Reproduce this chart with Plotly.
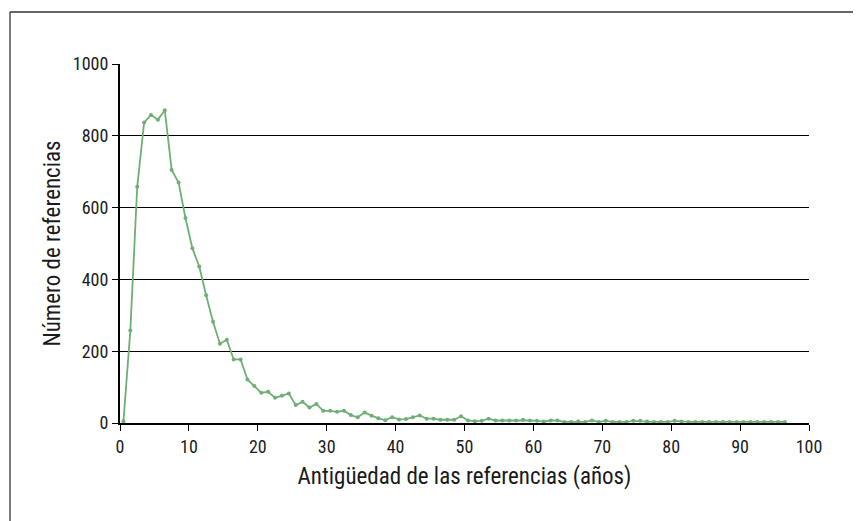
import plotly.graph_objects as go

# Data: number of references by age (years), points centred on each year bin
ages = [i + 0.5 for i in range(97)]
refs = [
    5, 258, 658, 837, 858, 845, 871, 705, 670, 571,
    487, 436, 356, 282, 221, 232, 177, 177, 121, 103,
    84, 87, 70, 76, 82, 50, 59, 43, 53, 34,
    34, 31, 34, 22, 16, 29, 20, 13, 8, 16,
    10, 11, 16, 21, 12, 12, 9, 9, 9, 19,
    7, 5, 6, 12, 7, 7, 7, 7, 9, 7,
    6, 4, 7, 7, 3, 3, 5, 3, 7, 3,
    6, 3, 3, 3, 6, 6, 4, 3, 3, 3,
    6, 4, 3, 3, 3, 3, 3, 3, 3, 3,
    3, 3, 3, 3, 3, 3, 3,
]
x_ticks = [0, 10, 20, 30, 40, 50, 60, 70, 80, 90, 100]
y_ticks = [0, 200, 400, 600, 800, 1000]

FONT = "Roboto Condensed, Liberation Sans Narrow, Arial Narrow, sans-serif"
GREEN = "#6faf76"

fig = go.Figure()
fig.add_trace(go.Scatter(
    x=ages, y=refs, mode="lines+markers",
    line=dict(color=GREEN, width=1.8),
    marker=dict(color=GREEN, size=4),
    showlegend=False, hoverinfo="x+y",
))

# page has an 8px body margin; figure is sized to fit inside the window
W, H = 853, 513
L, R, T, B = 112, 52, 56, 98
pw, ph = W - L - R, H - T - B

def px(xp):
    return (xp - L) / pw

def py(yp):
    return (H - B - yp) / ph

fig.update_layout(
    width=W, height=H,
    margin=dict(l=L, r=R, t=T, b=B),
    paper_bgcolor="white", plot_bgcolor="white",
    font=dict(family=FONT, size=18, color="#1a1a1a"),
    xaxis=dict(
        range=[0, 100], tickvals=x_ticks, ticktext=[str(v) for v in x_ticks],
        showgrid=False, zeroline=False,
        showline=True, linecolor="black", linewidth=2,
        ticks="outside", ticklen=6, tickcolor="black", tickwidth=1,
        title=dict(text="Antigüedad de las referencias (años)", font=dict(size=23), standoff=12),
        fixedrange=True,
    ),
    yaxis=dict(
        range=[0, 1000], tickvals=y_ticks, ticktext=[str(v) for v in y_ticks],
        showgrid=True, gridcolor="black", gridwidth=1, zeroline=False,
        showline=True, linecolor="black", linewidth=2,
        ticks="outside", ticklen=6, tickcolor="black", tickwidth=1,
        title=dict(text="Número de referencias", font=dict(size=23), standoff=6),
        fixedrange=True,
    ),
    shapes=[
        dict(type="line", xref="paper", yref="paper",
             x0=px(2), x1=px(870), y0=py(4), y1=py(4),
             line=dict(color="#333333", width=1.3)),
        dict(type="line", xref="paper", yref="paper",
             x0=px(2), x1=px(2), y0=py(4), y1=py(530),
             line=dict(color="#333333", width=1.3)),
    ],
)

fig.write_html("out.html")
